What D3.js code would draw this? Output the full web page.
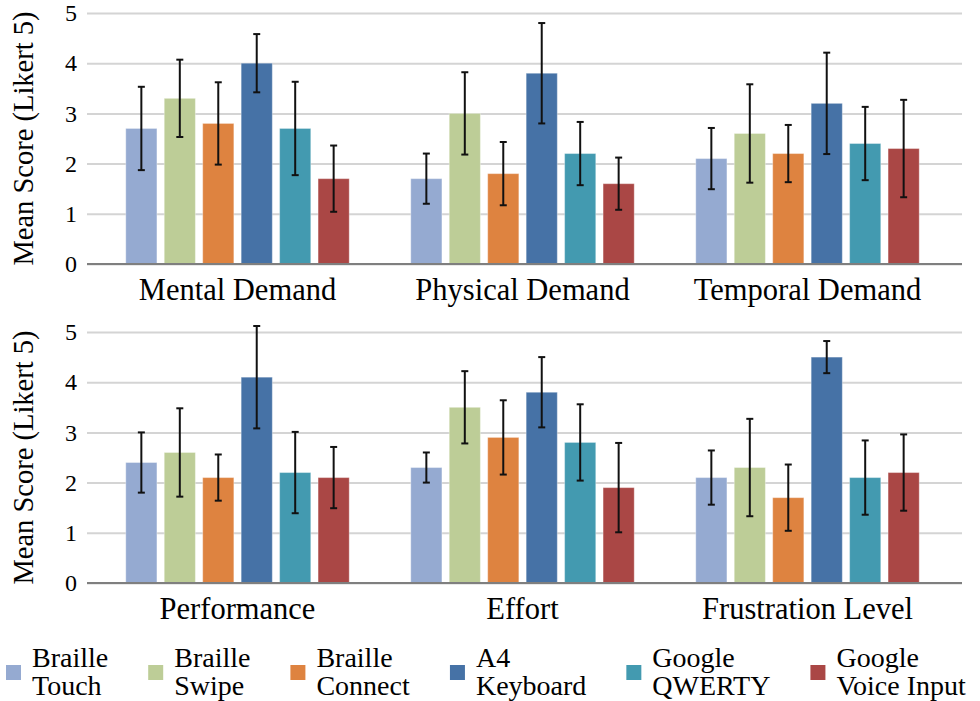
<!DOCTYPE html>
<html>
<head>
<meta charset="utf-8">
<script src="https://cdn.jsdelivr.net/npm/d3@7"></script>
<style>
    body { margin: 0; background: #fff; }
    svg text { font-family: "Times New Roman", Times, "Liberation Serif", "DejaVu Serif", serif; fill: #000; }
</style>
</head>
<body>
<div id="chart"></div>
<script>
const series = ["Braille Touch", "Braille Swipe", "Braille Connect", "A4 Keyboard", "Google QWERTY", "Google Voice Input"]

const categoriesTop = ["Mental Demand", "Physical Demand", "Temporal Demand"]
const categoriesBottom = ["Performance", "Effort", "Frustration Level"]

// mean scores, one array per category, in series order
const meanMental = [2.7, 3.3, 2.8, 4.0, 2.7, 1.7]
const meanPhysical = [1.7, 3.0, 1.8, 3.8, 2.2, 1.6]
const meanTemporal = [2.1, 2.6, 2.2, 3.2, 2.4, 2.3]
const meanPerformance = [2.4, 2.6, 2.1, 4.1, 2.2, 2.1]
const meanEffort = [2.3, 3.5, 2.9, 3.8, 2.8, 1.9]
const meanFrustration = [2.1, 2.3, 1.7, 4.5, 2.1, 2.2]

// error bar half-lengths
const errMental = [0.83, 0.77, 0.82, 0.58, 0.93, 0.66]
const errPhysical = [0.5, 0.82, 0.63, 1.0, 0.63, 0.52]
const errTemporal = [0.61, 0.98, 0.57, 1.01, 0.73, 0.97]
const errPerformance = [0.6, 0.88, 0.46, 1.02, 0.81, 0.61]
const errEffort = [0.3, 0.72, 0.74, 0.7, 0.76, 0.89]
const errFrustration = [0.54, 0.97, 0.66, 0.32, 0.74, 0.76]

const yTicks = [0, 1, 2, 3, 4, 5]

const width = 980,
    height = 701;

const gridLeft = 87,
    gridRight = 962;

const serif = "'Times New Roman', Times, 'Liberation Serif', 'DejaVu Serif', serif"

const color = d3.scaleOrdinal()
    .domain(series)
    .range(["#95aad1", "#bdcd97", "#de8340", "#4672a6", "#439ab0", "#aa4745"])

const svg = d3.select("#chart")
    .append("svg")
    .attr("width", width)
    .attr("height", height)
    .attr("font-family", serif)

function drawPanel(categories, means, errs, yBottom, yTop) {

    const rows = []
    categories.forEach(function(c, i) {
        series.forEach(function(s, j) {
            rows.push({ cat: c, series: s, mean: means[i][j], err: errs[i][j] })
        })
    })

    const x0 = d3.scaleBand()
        .domain(categories)
        .range([95, 950])

    const x1 = d3.scaleBand()
        .domain(series)
        .range([0, x0.bandwidth()])
        .paddingInner(0.19)
        .paddingOuter(0.8)

    const y = d3.scaleLinear()
        .domain([0, 5])
        .range([yBottom, yTop])

    const g = svg.append("g")

    // gridlines
    g.append("g")
        .attr("transform", `translate(${gridLeft},0)`)
        .call(d3.axisLeft(y).tickValues(yTicks).tickSize(-(gridRight - gridLeft)).tickFormat(""))
        .call(function(a) { a.select(".domain").remove() })
        .selectAll("line")
        .attr("stroke", "#d4d4d4")
        .attr("stroke-width", 2)

    // tick labels
    g.append("g")
        .attr("transform", `translate(${gridLeft},0)`)
        .call(d3.axisLeft(y).tickValues(yTicks).tickSize(0).tickPadding(10).tickFormat(d3.format("d")))
        .attr("font-family", serif)
        .attr("font-size", 24)
        .call(function(a) { a.select(".domain").remove() })
        .selectAll("text")
        .attr("fill", "#000")

    // bars
    g.selectAll(null)
        .data(rows)
        .join("rect")
        .attr("x", function(d) { return x0(d.cat) + x1(d.series) })
        .attr("y", function(d) { return y(d.mean) })
        .attr("width", x1.bandwidth())
        .attr("height", function(d) { return y(0) - y(d.mean) })
        .attr("fill", function(d) { return color(d.series) })
        .attr("stroke", "rgba(255,255,255,0.35)")
        .attr("stroke-width", 1)

    // baseline
    g.append("line")
        .attr("x1", gridLeft)
        .attr("x2", gridRight)
        .attr("y1", y(0))
        .attr("y2", y(0))
        .attr("stroke", "#7f7f7f")
        .attr("stroke-width", 2)

    // error bars
    const cap = 3.5
    const eb = g.selectAll(null)
        .data(rows)
        .join("g")
        .attr("transform", function(d) { return `translate(${x0(d.cat) + x1(d.series) + x1.bandwidth() / 2},0)` })
        .attr("stroke", "#111")
        .attr("stroke-width", 2)

    eb.append("line")
        .attr("y1", function(d) { return y(d.mean + d.err) })
        .attr("y2", function(d) { return y(d.mean - d.err) })
    eb.append("line")
        .attr("x1", -cap).attr("x2", cap)
        .attr("y1", function(d) { return y(d.mean + d.err) })
        .attr("y2", function(d) { return y(d.mean + d.err) })
    eb.append("line")
        .attr("x1", -cap).attr("x2", cap)
        .attr("y1", function(d) { return y(d.mean - d.err) })
        .attr("y2", function(d) { return y(d.mean - d.err) })

    // category labels
    g.selectAll(null)
        .data(categories)
        .join("text")
        .attr("x", function(d) { return x0(d) + x0.bandwidth() / 2 })
        .attr("y", y(0) + 36)
        .attr("text-anchor", "middle")
        .attr("font-size", 30.5)
        .text(function(d) { return d })

    // y title
    g.append("text")
        .attr("transform", `translate(33,${(yBottom + yTop) / 2}) rotate(-90)`)
        .attr("text-anchor", "middle")
        .attr("font-size", 28.5)
        .text("Mean Score (Likert 5)")
}

drawPanel(categoriesTop,
    [meanMental, meanPhysical, meanTemporal],
    [errMental, errPhysical, errTemporal],
    264, 13)

drawPanel(categoriesBottom,
    [meanPerformance, meanEffort, meanFrustration],
    [errPerformance, errEffort, errFrustration],
    583, 332)

// legend: square + two-line label, laid out left to right
const legend = svg.append("g")
let lx = 6
series.forEach(function(s) {
    const item = legend.append("g").attr("transform", `translate(${lx},0)`)
    item.append("rect")
        .attr("x", 0)
        .attr("y", 665)
        .attr("width", 15)
        .attr("height", 15)
        .attr("fill", color(s))
    const i = s.indexOf(" ")
    const lines = [s.slice(0, i), s.slice(i + 1)]
    const t = item.append("text")
        .attr("x", 26)
        .attr("y", 667)
        .attr("font-size", 28)
    t.selectAll("tspan")
        .data(lines)
        .join("tspan")
        .attr("x", 26)
        .attr("dy", function(d, k) { return k === 0 ? 0 : 28 })
        .text(function(d) { return d })
    lx += 26 + t.node().getBBox().width + 40
})
</script>
</body>
</html>
